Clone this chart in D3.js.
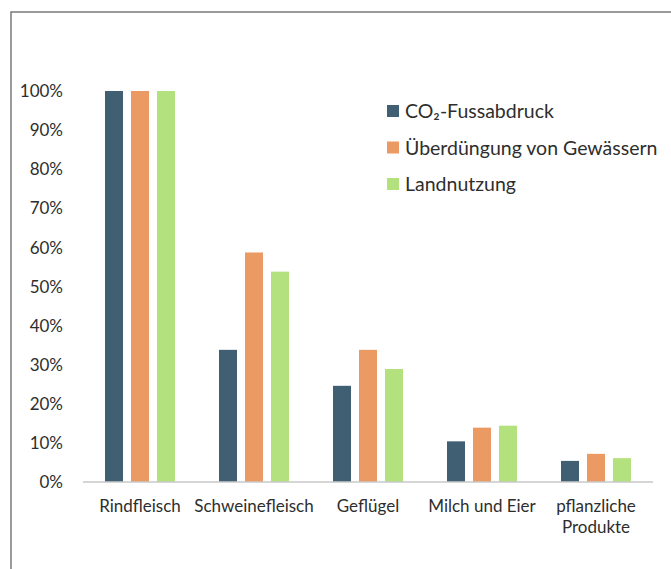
<!DOCTYPE html>
<html>
<head>
<meta charset="utf-8">
<script src="https://cdn.jsdelivr.net/npm/d3@7"></script>
<style>
  body { margin: 0; background: #fff; }
  text { font-family: Lato, "Open Sans", sans-serif; fill: #2e2e2e; }
</style>
</head>
<body>
<div id="chart"></div>
<script>
// data (share of the maximum, Rindfleisch = 100%)
var categories = ["Rindfleisch", "Schweinefleisch", "Geflügel", "Milch und Eier", "pflanzliche Produkte"]
var series = ["CO₂-Fussabdruck", "Überdüngung von Gewässern", "Landnutzung"]
var co2 = [1.00, 0.338, 0.246, 0.104, 0.054]
var ueberduengung = [1.00, 0.587, 0.338, 0.139, 0.072]
var landnutzung = [1.00, 0.538, 0.289, 0.144, 0.061]
var yTicks = [0, 0.1, 0.2, 0.3, 0.4, 0.5, 0.6, 0.7, 0.8, 0.9, 1.0]
var colors = ["#415f73", "#eb9a63", "#b3e17e"]

var values = [co2, ueberduengung, landnutzung]

var width = 671, height = 569

var svg = d3.select("#chart")
  .append("svg")
    .attr("width", width)
    .attr("height", height)

// outer frame (runs off the right and bottom edge)
svg.append("rect")
  .attr("x", 11).attr("y", 12)
  .attr("width", width).attr("height", height)
  .attr("fill", "none")
  .attr("stroke", "#7a7a7a")
  .attr("stroke-width", 1.5)

var x0 = d3.scaleBand()
  .domain(categories)
  .range([83, 653])

// three bars of 18px with 8px gaps, centred in each band
var x1 = d3.scaleBand()
  .domain(series)
  .range([0, 70])
  .paddingInner(8 / 26)

var y = d3.scaleLinear()
  .domain([0, 1])
  .range([482, 91])

// y labels
svg.append("g")
  .selectAll("text")
  .data(yTicks)
  .enter()
  .append("text")
    .attr("x", 63)
    .attr("y", function(d) { return y(d) })
    .attr("dy", "0.36em")
    .attr("text-anchor", "end")
    .style("font-size", "17px")
    .text(d3.format(".0%"))

// bars
var groups = svg.append("g")
  .selectAll("g")
  .data(categories)
  .enter()
  .append("g")
    .attr("transform", function(d) { return "translate(" + (x0(d) + (x0.bandwidth() - 70) / 2) + ",0)" })

groups.selectAll("rect")
  .data(function(d, i) { return series.map(function(s, j) { return { s: s, v: values[j][i], c: colors[j] } }) })
  .enter()
  .append("rect")
    .attr("x", function(d) { return x1(d.s) })
    .attr("y", function(d) { return y(d.v) })
    .attr("width", x1.bandwidth())
    .attr("height", function(d) { return y(0) - y(d.v) })
    .attr("fill", function(d) { return d.c })

// baseline
svg.append("line")
  .attr("x1", 83).attr("x2", 653)
  .attr("y1", y(0)).attr("y2", y(0))
  .attr("stroke", "#c9c9c9")
  .attr("stroke-width", 1.5)

// category labels, wrapped on the space for the last one
svg.append("g")
  .selectAll("text")
  .data(categories)
  .enter()
  .append("text")
    .attr("text-anchor", "middle")
    .style("font-size", "17px")
    .each(function(d) {
      var lines = d === "pflanzliche Produkte" ? d.split(" ") : [d]
      var t = d3.select(this)
      lines.forEach(function(l, k) {
        t.append("tspan")
          .attr("x", x0(d) + x0.bandwidth() / 2)
          .attr("y", 512 + k * 21)
          .text(l)
      })
    })

// legend
var legend = svg.append("g")
  .selectAll("g")
  .data(series)
  .enter()
  .append("g")
    .attr("transform", function(d, i) { return "translate(387," + (111 + i * 36.5) + ")" })

legend.append("rect")
  .attr("x", 0).attr("y", -6)
  .attr("width", 12).attr("height", 12)
  .attr("fill", function(d, i) { return colors[i] })

legend.append("text")
  .attr("x", 18)
  .attr("dy", "0.36em")
  .style("font-size", "19.5px")
  .text(function(d) { return d })
</script>
</body>
</html>
